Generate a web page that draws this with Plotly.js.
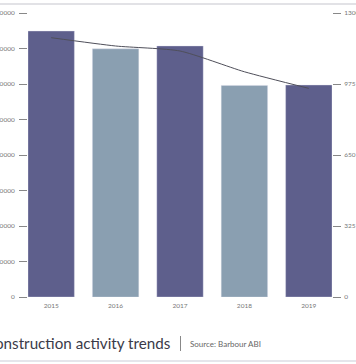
<!DOCTYPE html>
<html>
<head>
<meta charset="utf-8">
<script src="https://cdn.plot.ly/plotly-3.0.1.min.js"></script>
<style>html,body{margin:0;padding:0;background:#fff;}#chart{width:356px;height:364px;}</style>
</head>
<body>
<div id="chart"></div>
<script>
const years = ['2015', '2016', '2017', '2018', '2019'];
const barValues = [74900, 69900, 70700, 59600, 59700];
const lineValues = [1187, 1149, 1126, 1031, 955];
const barColors = ['#5e5f8c', '#8a9fb1', '#5e5f8c', '#8a9fb1', '#5e5f8c'];
const leftTicks = [0, 10000, 20000, 30000, 40000, 50000, 60000, 70000, 80000];
const rightTicks = [0, 325, 650, 975, 1300];
const titleText = 'Construction activity trends';
const sourceText = 'Source: Barbour ABI';

const W = 356, H = 364, L = 28, R = 24, T = 13, B = 67;
const pw = W - L - R, ph = H - T - B;
const px = x => (x - L) / pw;
const py = y => (H - B - y) / ph;

const traces = [
  {
    type: 'bar', x: years, y: barValues, yaxis: 'y',
    marker: {color: barColors, line: {color: 'rgba(220,220,235,0.6)', width: 0.6}},
    hoverinfo: 'none'
  },
  {
    type: 'scatter', mode: 'lines', x: years, y: lineValues, yaxis: 'y2',
    line: {color: '#4f4f5a', width: 1, shape: 'spline', smoothing: 0.6},
    hoverinfo: 'none'
  }
];

const tickFont = {family: 'Lato, "Open Sans", sans-serif', size: 6.5, color: '#777'};

const layout = {
  width: W, height: H,
  margin: {l: L, r: R, t: T, b: B, pad: 0},
  paper_bgcolor: '#fff', plot_bgcolor: '#fff',
  showlegend: false,
  bargap: 0.28,
  xaxis: {
    type: 'category', range: [-0.36, 4.36], showgrid: false, zeroline: false,
    showline: false, ticks: '', tickfont: tickFont, fixedrange: true,
    ticklabelstandoff: 3
  },
  yaxis: {
    range: [0, 80000], tickvals: leftTicks, ticktext: leftTicks.map(String),
    showgrid: false, zeroline: false, showline: false,
    ticks: 'outside', ticklen: 8, tickcolor: '#888', tickwidth: 1,
    tickfont: tickFont, automargin: false, ticklabelstandoff: 3
  },
  yaxis2: {
    overlaying: 'y', side: 'right', range: [0, 1300], tickvals: rightTicks,
    ticktext: rightTicks.map(String),
    showgrid: false, zeroline: false, showline: false,
    ticks: 'outside', ticklen: 8, tickcolor: '#888', tickwidth: 1,
    tickfont: tickFont, automargin: false, ticklabelstandoff: 2
  },
  shapes: [
    {type: 'line', xref: 'paper', yref: 'paper', x0: px(0), x1: px(W), y0: py(4), y1: py(4),
     line: {color: '#e2e2e6', width: 2}},
    {type: 'line', xref: 'paper', yref: 'paper', x0: px(0), x1: px(W), y0: py(361), y1: py(361),
     line: {color: '#dcdce4', width: 1.5}},
    {type: 'line', xref: 'paper', yref: 'paper', x0: px(180.5), x1: px(180.5), y0: py(336), y1: py(351),
     line: {color: '#888', width: 1}}
  ],
  annotations: [
    {xref: 'paper', yref: 'paper', x: px(172), y: py(343), xanchor: 'right', yanchor: 'middle',
     text: titleText, showarrow: false,
     font: {family: 'Lato, "Open Sans", sans-serif', size: 15.2, color: '#3a3a48'}},
    {xref: 'paper', yref: 'paper', x: px(188), y: py(344), xanchor: 'left', yanchor: 'middle',
     text: sourceText, showarrow: false,
     font: {family: 'Lato, "Open Sans", sans-serif', size: 8, color: '#666'}}
  ]
};

Plotly.newPlot('chart', traces, layout, {displayModeBar: false, staticPlot: true});
</script>
</body>
</html>
